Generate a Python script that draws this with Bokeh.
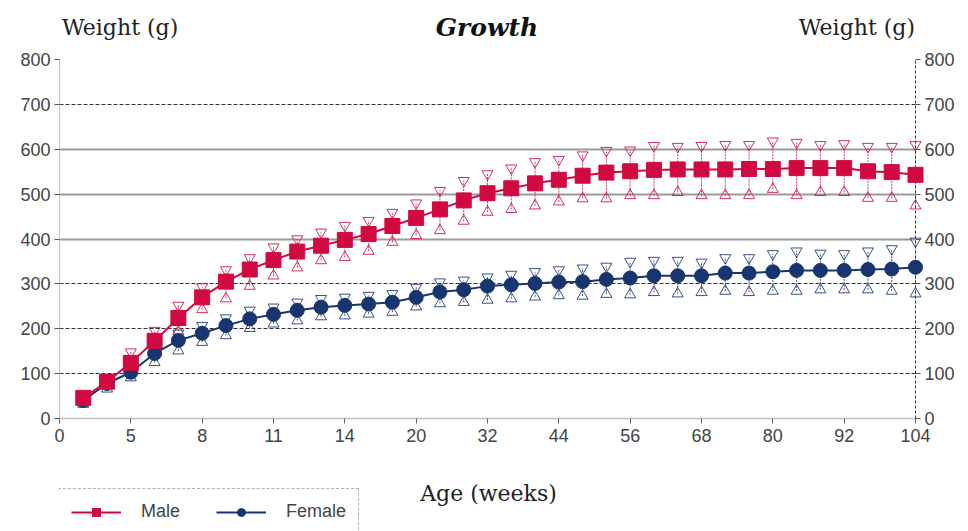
from bokeh.plotting import figure
from bokeh.models import (LinearAxis, FixedTicker, Grid, Legend, LegendItem, Range1d, Div, Label)
from bokeh.layouts import column
from bokeh.embed import file_html
from bokeh.resources import INLINE

# ---------------- data ----------------
positions = list(range(1, 37))  # equally spaced sampling points along the age axis
tick_labels = ["0", "5", "8", "11", "14", "20", "32", "44", "56", "68", "80", "92", "104"]
y_ticks = [0, 100, 200, 300, 400, 500, 600, 700, 800]

male_mean = [46, 82, 124, 173, 224, 270, 305, 332, 353, 372, 385, 398, 411, 429, 447, 466,
             486, 502, 513, 524, 532, 541, 548, 551, 554, 555, 555, 555, 556, 556, 558, 558,
             558, 551, 549, 543]
male_upper = [50, 90, 148, 196, 252, 293, 331, 358, 382, 400, 415, 430, 441, 459, 480, 508,
              530, 545, 558, 572, 577, 587, 597, 598, 608, 606, 608, 610, 610, 618, 615, 610,
              612, 606, 606, 610]
male_lower = [42, 74, 110, 155, 194, 243, 267, 295, 318, 336, 352, 359, 373, 393, 408, 419,
              440, 460, 466, 474, 483, 490, 490, 497, 497, 504, 497, 497, 497, 511, 497, 504,
              504, 491, 491, 474]

female_mean = [40, 78, 103, 145, 174, 190, 207, 222, 232, 241, 248, 252, 255, 259, 270, 282,
               287, 295, 298, 301, 304, 305, 310, 313, 318, 318, 318, 324, 324, 327, 330, 330,
               330, 332, 333, 337]
female_upper = [44, 84, 115, 159, 190, 207, 224, 241, 248, 259, 267, 270, 274, 278, 292, 304,
                308, 315, 321, 327, 331, 335, 339, 350, 352, 352, 348, 358, 358, 367, 373, 368,
                367, 373, 378, 395]
female_lower = [32, 66, 91, 125, 151, 170, 185, 201, 211, 218, 227, 229, 233, 237, 249, 256,
                259, 264, 267, 271, 274, 273, 277, 276, 281, 278, 281, 284, 281, 284, 284, 287,
                287, 287, 284, 278]

title_text = "Growth"
y_title = "Weight (g)"
x_title = "Age (weeks)"
series_names = ["Male", "Female"]

# ---------------- style ----------------
MALE = "#D00A40"
FEMALE = "#18356F"
NARROW = "'Liberation Sans Narrow', 'Liberation Sans', Arial, sans-serif"
SERIF = "'DejaVu Serif', serif"
LABEL_COLOR = "#444444"

n_int = len(tick_labels) - 1
step = len(positions) // n_int
tick_pos = [i * step for i in range(len(tick_labels))]

HEADER_H = 45
MAIN_BOTTOM = 34
FOOTER_H = 531 - HEADER_H - 14 - 359 - MAIN_BOTTOM

p = figure(frame_width=856, frame_height=359,
           min_border_left=59, min_border_right=45, min_border_top=14,
           min_border_bottom=MAIN_BOTTOM,
           x_range=Range1d(0, tick_pos[-1]), y_range=Range1d(y_ticks[0], y_ticks[-1]),
           output_backend="svg", toolbar_location=None)
p.outline_line_color = None
p.background_fill_color = "white"
p.border_fill_color = "white"

# x axis
xa = p.xaxis[0]
xa.ticker = FixedTicker(ticks=tick_pos)
xa.major_label_overrides = {tp: lab for tp, lab in zip(tick_pos, tick_labels)}
xa.minor_tick_line_color = None
xa.major_tick_in = 0
xa.major_tick_out = 5
xa.major_tick_line_color = "#666666"
xa.axis_line_color = "#7a8a8a"
xa.axis_line_dash = "1 1"
xa.axis_line_width = 1.5
xa.major_label_text_font = NARROW
xa.major_label_text_font_size = "18px"
xa.major_label_text_color = LABEL_COLOR
xa.major_label_standoff = 5


def style_y(ax, dash, color):
    ax.ticker = FixedTicker(ticks=y_ticks)
    ax.minor_tick_line_color = None
    ax.major_tick_in = 0
    ax.major_tick_out = 5
    ax.major_tick_line_color = "#555555"
    ax.axis_line_color = color
    ax.axis_line_dash = dash
    ax.major_label_text_font = NARROW
    ax.major_label_text_font_size = "18px"
    ax.major_label_text_color = LABEL_COLOR
    ax.major_label_standoff = 4


style_y(p.yaxis[0], "1 1", "#888888")
ra = LinearAxis()
style_y(ra, "3 2", "#333333")
p.add_layout(ra, "right")

# grids
p.xgrid.visible = False
p.ygrid.ticker = FixedTicker(ticks=[t for t in y_ticks if t in (100, 200, 300, 700, 800)])
p.ygrid.grid_line_color = "#333333"
p.ygrid.grid_line_dash = "4 2"
p.ygrid.grid_line_width = 1
g2 = Grid(dimension=1, ticker=FixedTicker(ticks=[t for t in y_ticks if t in (400, 500, 600)]),
          grid_line_color="#9a9a9a", grid_line_width=2)
p.add_layout(g2)

# error bars
for mean, up, lo, col in [(male_mean, male_upper, male_lower, MALE),
                          (female_mean, female_upper, female_lower, FEMALE)]:
    p.segment(x0=positions, y0=lo, x1=positions, y1=up, line_color=col, line_width=1,
              line_dash="2 1", line_alpha=0.8)
    r1 = p.scatter(positions, up, marker="inverted_triangle", size=11, fill_color="white",
                   fill_alpha=0.0, line_color=col, line_width=1, line_alpha=0.85)
    r2 = p.scatter(positions, lo, marker="triangle", size=11, fill_color="white",
                   fill_alpha=0.0, line_color=col, line_width=1, line_alpha=0.85)
    r1.level = "overlay"
    r2.level = "overlay"

fl = p.line(positions, female_mean, line_color=FEMALE, line_width=2)
fc = p.scatter(positions, female_mean, marker="circle", size=14, fill_color=FEMALE,
               line_color=FEMALE)
ml = p.line(positions, male_mean, line_color=MALE, line_width=2)
ms = p.scatter(positions, male_mean, marker="square", size=15, fill_color=MALE,
               line_color=MALE)
fc.level = "overlay"
ms.level = "overlay"

# ---------------- footer: x title + legend ----------------
f = figure(width=960, height=FOOTER_H, min_border=0,
           x_range=Range1d(0, 1), y_range=Range1d(0, 1),
           x_axis_location=None, y_axis_location=None,
           output_backend="svg", toolbar_location=None)
f.outline_line_color = None
f.xgrid.visible = False
f.ygrid.visible = False
f.background_fill_color = "white"
f.border_fill_color = "white"

# legend key renderers (same styling as the series; hidden, used only for the key)
kml = f.line(positions, male_mean, line_color=MALE, line_width=2, visible=False)
kms = f.scatter(positions, male_mean, marker="square", size=15, fill_color=MALE,
                line_color=MALE, visible=False)
kfl = f.line(positions, female_mean, line_color=FEMALE, line_width=2, visible=False)
kfc = f.scatter(positions, female_mean, marker="circle", size=14, fill_color=FEMALE,
                line_color=FEMALE, visible=False)

legend = Legend(items=[LegendItem(label=series_names[0], renderers=[kml, kms]),
                       LegendItem(label=series_names[1], renderers=[kfl, kfc])],
                orientation="horizontal", location=(-1, -4),
                border_line_color="#666666", border_line_dash="1 1", border_line_width=1.5,
                label_text_font=NARROW, label_text_font_size="18px",
                label_text_color=LABEL_COLOR, glyph_width=50, glyph_height=20,
                label_height=20, spacing=36, padding=12, margin=0, label_standoff=20,
                background_fill_alpha=1.0)
f.add_layout(legend, "center")

f.add_layout(Label(x=429, y=FOOTER_H - 41, x_units="screen", y_units="screen", text=x_title,
                   text_font=SERIF, text_font_size="22px", text_color="#222222",
                   text_align="center", text_baseline="middle"))

# ---------------- header ----------------
header_html = f"""
<div style="position:relative;width:960px;height:{HEADER_H}px;">
  <span style="position:absolute;left:62px;top:17px;font-family:'DejaVu Serif',serif;
        font-size:22px;line-height:1;color:#222;white-space:nowrap;">{y_title}</span>
  <span style="position:absolute;left:487px;top:15px;transform:translateX(-50%);
        font-family:'DejaVu Serif',serif;font-size:25px;font-style:italic;font-weight:bold;
        line-height:1;color:#111;white-space:nowrap;">{title_text}</span>
  <span style="position:absolute;right:45px;top:17px;font-family:'DejaVu Serif',serif;
        font-size:22px;line-height:1;color:#222;white-space:nowrap;">{y_title}</span>
</div>
"""
header = Div(text=header_html, width=960, height=HEADER_H, margin=(0, 0, 0, 0))

layout = column(header, p, f, spacing=0)
open("out.html", "w").write(file_html(layout, INLINE))
